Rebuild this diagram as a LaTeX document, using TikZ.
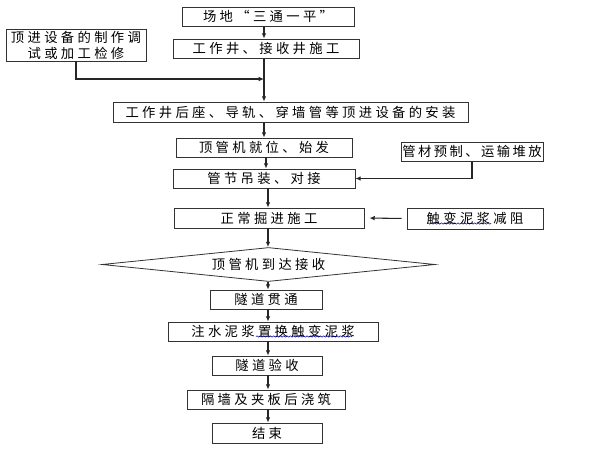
\documentclass[tikz,border=0pt]{standalone}
\usepackage{fontspec}
\newfontfamily\cjk[LetterSpace=25]{Noto Sans CJK SC}
\newfontfamily\cjktight[LetterSpace=18]{Noto Sans CJK SC}
\usetikzlibrary{shapes.geometric,arrows.meta,decorations.pathmorphing}
\begin{document}
\begin{tikzpicture}[x=0.75pt,y=-0.75pt,
  box/.style={draw=black!80,line width=0.6pt,inner sep=0pt,font=\cjk\fontsize{10}{12}\selectfont,text=black},
  arr/.style={draw=black!85,line width=0.8pt,-{Latex[length=4pt,width=3.5pt]}},
  wavy/.style={draw=blue!60!black,line width=0.4pt,decorate,decoration={snake,amplitude=0.5pt,segment length=2.5pt}},
  dia/.style={draw=black!80,line width=0.6pt,diamond,aspect=10,inner sep=0pt,font=\cjk\fontsize{10}{12}\selectfont,text=black}]
\useasboundingbox[fill=white] (0,0) rectangle (600,450);
\node[box,minimum width=172*0.75pt,minimum height=19*0.75pt] (n1) at (268,16.5) {场地“三通一平”};
\node[box,minimum width=186*0.75pt,minimum height=19*0.75pt] (n2) at (266,48.5) {工作井、接收井施工};
\node[box,minimum width=140*0.75pt,minimum height=32*0.75pt,align=center] (nl) at (76,45) {顶进设备的制作调\\试或加工检修};
\node[box,minimum width=355*0.75pt,minimum height=20*0.75pt] (n3) at (290.5,112) {工作井后座、导轨、穿墙管等顶进设备的安装};
\node[box,minimum width=176*0.75pt,minimum height=19*0.75pt] (n4) at (264,147.5) {顶管机就位、始发};
\node[box,font=\cjktight\fontsize{10}{12}\selectfont,minimum width=142*0.75pt,minimum height=19*0.75pt] (np) at (472,151.5) {管材预制、运输堆放};
\node[box,minimum width=182*0.75pt,minimum height=19*0.75pt] (n5) at (264,178.5) {管节吊装、对接};
\node[box,minimum width=190*0.75pt,minimum height=20*0.75pt] (n6) at (269,218) {正常掘进施工};
\node[box,minimum width=136*0.75pt,minimum height=21*0.75pt] (nt) at (475,218.5) {触变泥浆减阻};
\node[dia,minimum width=333*0.75pt,minimum height=34*0.75pt] (nd) at (268.5,264.5) {顶管机到达接收};
\node[box,minimum width=112*0.75pt,minimum height=19*0.75pt] (n7) at (266,299.5) {隧道贯通};
\node[box,minimum width=210*0.75pt,minimum height=19*0.75pt] (n8) at (273,331.5) {注水泥浆置换触变泥浆};
\node[box,minimum width=110*0.75pt,minimum height=19*0.75pt] (n9) at (267,365.5) {隧道验收};
\node[box,minimum width=158*0.75pt,minimum height=19*0.75pt] (n10) at (266,399.5) {隔墙及夹板后浇筑};
\node[box,minimum width=110*0.75pt,minimum height=20*0.75pt] (n11) at (267,433) {结束};
\coordinate (cA) at (264,0);
\coordinate (cB) at (266,0);
\coordinate (cC) at (268,0);
\coordinate (j1) at (264,79);
\coordinate (u1a) at (427,223.5);
\coordinate (u1b) at (491,223.5);
\coordinate (u2a) at (256,336.5);
\coordinate (u2b) at (352,336.5);
\draw[wavy] (u1a) -- (u1b);
\draw[wavy] (u2a) -- (u2b);
\draw[arr] (n1.south -| cA) -- (n2.north -| cA);
\draw[arr,line width=1.3pt] (n2.south -| cA) -- (n3.north -| cA);
\draw[arr] (nl.south) |- (j1);
\draw[arr] (n3.south -| cA) -- (n4.north -| cA);
\draw[arr] (n4.south -| cB) -- (n5.north -| cB);
\draw[arr] (np.south) |- (n5.east);
\draw[arr] (n5.south -| cC) -- (n6.north -| cC);
\draw[arr,shorten <=5*0.75pt,shorten >=5*0.75pt] (nt.west) -- (n6.east);
\draw[arr] (n6.south -| cC) -- (nd.north -| cC);
\draw[arr] (nd.south -| cC) -- (n7.north -| cC);
\draw[arr] (n7.south -| cC) -- (n8.north -| cC);
\draw[arr] (n8.south -| cC) -- (n9.north -| cC);
\draw[arr] (n9.south -| cC) -- (n10.north -| cC);
\draw[arr] (n10.south -| cC) -- (n11.north -| cC);
\end{tikzpicture}
\end{document}
